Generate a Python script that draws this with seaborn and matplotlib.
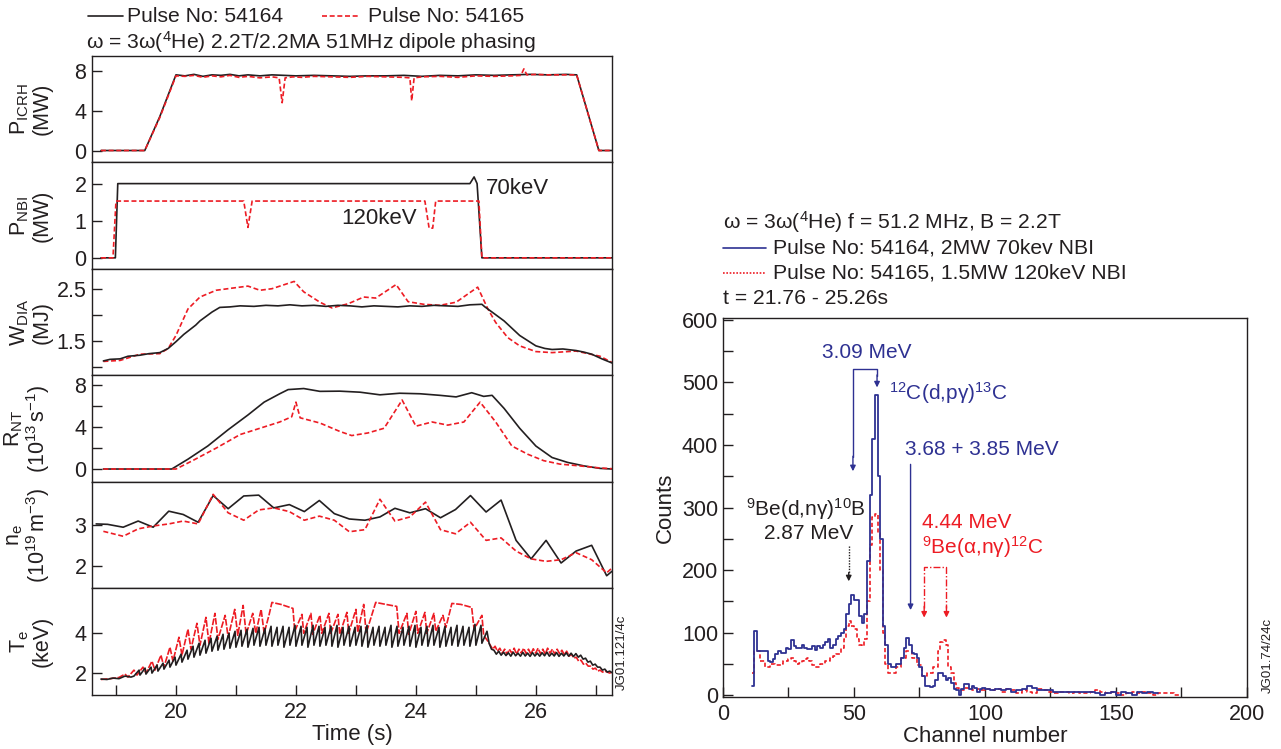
import numpy as np
import matplotlib
matplotlib.use('Agg')
import matplotlib.pyplot as plt
import seaborn as sns
from matplotlib.lines import Line2D

sns.set_style('ticks')
plt.rcParams['font.family'] = ['Liberation Sans', 'DejaVu Sans']
plt.rcParams['mathtext.fontset'] = 'custom'
plt.rcParams['mathtext.rm'] = 'Liberation Sans'
plt.rcParams['mathtext.it'] = 'Liberation Sans:italic'
plt.rcParams['mathtext.bf'] = 'Liberation Sans:bold'

BLACK = '#231f20'
RED = '#ed1c24'
BLUE = '#2e3192'

# ---------------- left panel data (time traces) ----------------
t_icrh_k = [18.75, 19.48, 19.73, 20.0, 20.15, 20.3, 20.45, 20.6, 20.75, 20.9, 21.05, 21.2, 21.4, 21.6, 21.8,
            22.0, 22.3, 22.6, 22.9, 23.2, 23.5, 23.8, 24.1, 24.4, 24.7, 25.0, 25.3, 25.6, 25.9, 26.2, 26.5,
            26.68, 27.05, 27.27]
p_icrh_k = [0, 0, 3.4, 7.6, 7.5, 7.65, 7.45, 7.6, 7.55, 7.65, 7.5, 7.6, 7.5, 7.6, 7.55,
            7.5, 7.55, 7.5, 7.45, 7.5, 7.5, 7.55, 7.45, 7.55, 7.5, 7.6, 7.55, 7.6, 7.65, 7.6, 7.65,
            7.6, 0, 0]
t_icrh_r = [18.75, 19.48, 19.73, 20.0, 20.15, 20.3, 20.45, 20.6, 20.75, 20.9, 21.05, 21.2, 21.4, 21.6, 21.72,
            21.77, 21.82, 21.95, 22.1, 22.3, 22.6, 22.9, 23.2, 23.5, 23.8, 23.9, 23.93, 23.97, 24.1, 24.4,
            24.7, 25.0, 25.3, 25.6, 25.75, 25.8, 25.85, 26.0, 26.2, 26.5, 26.68, 27.05, 27.27]
p_icrh_r = [0, 0, 3.3, 7.5, 7.45, 7.55, 7.35, 7.5, 7.4, 7.55, 7.35, 7.45, 7.3, 7.4, 7.3,
            4.8, 7.3, 7.4, 7.35, 7.45, 7.4, 7.35, 7.45, 7.4, 7.35, 7.3, 5.0, 7.3, 7.4, 7.45,
            7.35, 7.5, 7.45, 7.5, 7.55, 8.2, 7.6, 7.65, 7.6, 7.6, 7.6, 0, 0]

t_nbi_k = [18.75, 18.99, 19.03, 24.9, 24.97, 25.02, 25.1, 27.27]
p_nbi_k = [0, 0, 2.0, 2.0, 2.18, 2.0, 0, 0]
t_nbi_r = [18.75, 18.95, 19.0, 21.13, 21.2, 21.27, 24.15, 24.22, 24.28, 24.33, 25.05, 25.1, 27.27]
p_nbi_r = [0, 0, 1.53, 1.53, 0.82, 1.53, 1.53, 0.8, 0.8, 1.53, 1.53, 0, 0]

t_w_k = [18.79, 18.9, 19.07, 19.2, 19.4, 19.55, 19.73, 19.87, 20.0, 20.13, 20.33, 20.4, 20.6, 20.73, 20.9,
         21.07, 21.3, 21.5, 21.7, 21.9, 22.1, 22.3, 22.5, 22.7, 22.9, 23.1, 23.3, 23.5, 23.7, 23.9, 24.1,
         24.3, 24.5, 24.7, 24.9, 25.1, 25.15, 25.27, 25.47, 25.73, 26.0, 26.15, 26.27, 26.45, 26.67, 26.8,
         26.93, 27.1, 27.27]
w_k = [1.11, 1.14, 1.15, 1.2, 1.22, 1.25, 1.27, 1.35, 1.48, 1.62, 1.8, 1.88, 2.05, 2.14, 2.15,
       2.17, 2.16, 2.18, 2.17, 2.19, 2.17, 2.18, 2.16, 2.18, 2.17, 2.15, 2.17, 2.16, 2.15, 2.17, 2.16,
       2.18, 2.17, 2.16, 2.19, 2.2, 2.15, 2.05, 1.88, 1.6, 1.4, 1.35, 1.33, 1.34, 1.31, 1.28,
       1.24, 1.15, 1.07]
t_w_r = [18.79, 19.07, 19.4, 19.73, 19.87, 20.0, 20.2, 20.4, 20.67, 20.93, 21.2, 21.4, 21.6, 21.97, 22.13,
         22.4, 22.6, 22.87, 23.13, 23.33, 23.67, 23.87, 24.13, 24.4, 24.67, 25.03, 25.2, 25.33, 25.53,
         25.73, 26.0, 26.27, 26.67, 27.07, 27.27]
w_r = [1.1, 1.12, 1.24, 1.25, 1.35, 1.6, 2.11, 2.34, 2.47, 2.51, 2.55, 2.47, 2.5, 2.64, 2.44,
       2.24, 2.13, 2.21, 2.34, 2.32, 2.58, 2.25, 2.2, 2.18, 2.24, 2.53, 2.11, 1.85, 1.56,
       1.4, 1.29, 1.27, 1.3, 1.2, 1.08]

t_rnt_k = [18.79, 19.93, 20.2, 20.53, 20.87, 21.2, 21.47, 21.73, 21.87, 22.13, 22.4, 22.73, 23.07, 23.4,
           23.73, 24.07, 24.4, 24.67, 24.93, 25.13, 25.27, 25.47, 25.73, 26.0, 26.27, 26.53, 26.8, 27.07, 27.27]
rnt_k = [0, 0, 0.94, 2.2, 3.76, 5.17, 6.4, 7.2, 7.6, 7.7, 7.43, 7.45, 7.35, 7.1,
         7.25, 7.2, 7.05, 6.9, 7.3, 6.95, 7.05, 5.8, 3.9, 2.2, 1.1, 0.63, 0.3, 0.06, 0]
t_rnt_r = [18.79, 20.0, 20.27, 20.67, 21.07, 21.4, 21.73, 21.93, 22.0, 22.07, 22.4, 22.73, 22.93, 23.2,
           23.47, 23.77, 24.0, 24.27, 24.53, 24.8, 25.07, 25.33, 25.6, 25.87, 26.13, 26.4, 26.73, 27.07, 27.27]
rnt_r = [0, 0, 0.78, 2.0, 3.3, 3.9, 4.5, 5.0, 6.4, 4.9, 4.4, 3.6, 3.2, 3.45,
         3.9, 6.6, 4.1, 4.5, 4.2, 4.5, 6.4, 4.5, 2.2, 1.4, 0.8, 0.47, 0.3, 0.1, 0.03]

t_ne = [18.67, 18.86, 19.12, 19.37, 19.62, 19.88, 20.12, 20.37, 20.62, 20.87, 21.13, 21.38, 21.63, 21.89,
        22.14, 22.39, 22.64, 22.89, 23.15, 23.4, 23.65, 23.9, 24.16, 24.41, 24.66, 24.91, 25.17, 25.42,
        25.67, 25.92, 26.17, 26.42, 26.67, 26.93, 27.18, 27.27]
ne_k = [3.03, 3.02, 2.95, 3.10, 2.95, 3.34, 3.26, 3.07, 3.72, 3.40, 3.71, 3.73, 3.42, 3.50,
        3.33, 3.60, 3.28, 3.15, 3.12, 3.20, 3.41, 3.30, 3.40, 3.18, 3.38, 3.72, 3.32, 3.61,
        2.63, 2.18, 2.63, 2.08, 2.37, 2.51, 1.77, 1.88]
t_ne_r = [18.79, 19.12, 19.37, 19.62, 19.88, 20.12, 20.37, 20.62, 20.87, 21.13, 21.38, 21.63, 21.89,
          22.14, 22.39, 22.64, 22.89, 23.15, 23.4, 23.65, 23.9, 24.16, 24.41, 24.66, 24.91, 25.17, 25.42,
          25.67, 25.92, 26.17, 26.42, 26.67, 26.93, 27.18, 27.27]
ne_r = [2.85, 2.73, 2.91, 2.98, 3.03, 3.10, 3.03, 3.75, 3.30, 3.12, 3.37, 3.42, 3.33,
        3.12, 3.22, 3.12, 2.84, 2.89, 3.63, 3.10, 3.20, 3.56, 2.89, 2.79, 3.07, 2.63, 2.69,
        2.37, 2.18, 2.12, 2.16, 2.33, 2.16, 1.84, 1.96]

# Te, pulse 54164: slow ramp, then sawtooth teeth (trough, peak), then noisy plateau
t_te_k_pre = [18.75, 18.85, 18.95, 19.05, 19.15, 19.25]
te_k_pre = [1.7, 1.68, 1.75, 1.72, 1.85, 1.8]
te_k_trough = [1.85, 1.9, 1.95, 2.0, 2.1, 2.2, 2.3,
               2.4, 2.55, 2.7, 2.8, 2.9, 3.0, 3.1, 3.15, 3.2, 3.25,
               3.3, 3.35, 3.3, 3.4, 3.35, 3.4, 3.35, 3.4, 3.3, 3.4,
               3.35, 3.4, 3.3, 3.4, 3.35, 3.4, 3.35, 3.3, 3.4, 3.35,
               3.4, 3.35, 3.3, 3.4, 3.35, 3.4, 3.3, 3.35, 3.4, 3.35,
               3.3, 3.4, 3.35, 3.4, 3.3, 3.35, 3.4, 3.35, 3.4, 3.35,
               3.4, 3.5]
te_k_peak = [2.15, 2.25, 2.3, 2.4, 2.5, 2.65, 2.8,
             2.95, 3.15, 3.35, 3.5, 3.65, 3.75, 3.85, 3.95, 4.0, 4.1,
             4.15, 4.2, 4.25, 4.3, 4.25, 4.35, 4.3, 4.35, 4.3, 4.4,
             4.35, 4.3, 4.4, 4.35, 4.3, 4.35, 4.4, 4.3, 4.35, 4.3,
             4.35, 4.4, 4.3, 4.35, 4.3, 4.4, 4.35, 4.3, 4.35, 4.4,
             4.3, 4.35, 4.4, 4.3, 4.35, 4.3, 4.4, 4.35, 4.3, 4.45,
             4.4, 4.1]
te_k_post = [3.5, 3.2, 3.15, 2.95, 3.1, 2.9, 3.05, 2.88, 3.02, 2.85, 3.05, 2.87, 3.0, 2.85, 3.04, 2.86,
             3.0, 2.84, 3.03, 2.86, 3.0, 2.85, 3.02, 2.87, 3.05, 2.85, 3.0, 2.86, 3.03, 2.84, 3.0, 2.86,
             3.02, 2.85, 3.0, 2.83, 2.98, 2.8, 2.9, 2.7, 2.75, 2.55, 2.6, 2.4, 2.45, 2.3, 2.3, 2.15,
             2.2, 2.05, 2.1, 2.02]
# Te, pulse 54165: (time, value) vertices of the large sawteeth
te_r_pairs = [(18.75, 1.68), (18.9, 1.72), (19.05, 1.78), (19.15, 1.95), (19.2, 1.8), (19.3, 2.15),
              (19.35, 1.9), (19.45, 2.3), (19.5, 2.0), (19.6, 2.6), (19.65, 2.15), (19.75, 2.9),
              (19.8, 2.3), (19.9, 3.3), (19.95, 2.6), (20.05, 3.8), (20.1, 2.9), (20.2, 4.2),
              (20.25, 3.2), (20.35, 4.5), (20.4, 3.4), (20.5, 4.8), (20.55, 3.5), (20.65, 5.0),
              (20.7, 3.7), (20.82, 4.9), (20.87, 3.8), (20.98, 5.2), (21.03, 3.9), (21.12, 5.4),
              (21.17, 3.95), (21.28, 5.0), (21.33, 4.0), (21.42, 5.2), (21.47, 4.0), (21.55, 4.9),
              (21.6, 5.55), (21.75, 5.45), (21.95, 5.25), (21.98, 4.1), (22.1, 4.95), (22.13, 4.0),
              (22.25, 5.0), (22.28, 3.95), (22.4, 4.9), (22.43, 4.0), (22.55, 5.0), (22.58, 4.0),
              (22.7, 4.95), (22.73, 3.95), (22.85, 5.05), (22.88, 4.0), (23.0, 5.2), (23.03, 4.05),
              (23.13, 5.45), (23.17, 4.0), (23.33, 5.55), (23.5, 5.45), (23.68, 5.35), (23.72, 4.0),
              (23.85, 5.0), (23.88, 3.95), (24.0, 5.1), (24.03, 4.0), (24.15, 5.05), (24.18, 4.0),
              (24.3, 5.0), (24.33, 4.1), (24.45, 4.9), (24.5, 4.3), (24.6, 5.5), (24.75, 5.45),
              (24.93, 5.3), (24.97, 4.2), (25.1, 4.9), (25.13, 3.9), (25.2, 3.6)]
te_r_post = [3.4, 3.2, 3.35, 3.1, 3.25, 3.0, 3.2, 2.95, 3.2, 3.0, 3.25, 2.95, 3.2, 3.0, 3.25, 2.98,
             3.2, 2.95, 3.22, 3.0, 3.25, 2.97, 3.2, 2.95, 3.25, 3.0, 3.2, 2.95, 3.2, 2.98, 3.15, 2.92,
             3.1, 2.85, 2.95, 2.75, 2.8, 2.6, 2.65, 2.45, 2.5, 2.35, 2.35, 2.2, 2.25, 2.1, 2.15, 2.05,
             2.1, 2.05, 2.0, 2.05]

# ---------------- right panel data (gamma spectrum) ----------------
hist_edges_fine = list(range(11, 101))        # 1-channel bins 11..100
blue_fine = [15, 102, 70, 70, 70, 70, 55, 53, 58, 65, 70, 68, 68, 75, 73, 88, 78, 75, 75, 80,
             75, 73, 73, 78, 72, 78, 75, 80, 85, 90, 75, 80, 90, 95, 100, 105, 130, 145, 160, 152,
             152, 127, 116, 130, 215, 320, 410, 480, 350, 250, 110, 80, 50, 45, 45, 50, 50, 60, 75, 92,
             80, 68, 65, 60, 45, 30, 15, 15, 13, 15, 25, 35, 35, 30, 25, 28, 20, 10, 8, 0,
             10, 18, 18, 10, 15, 12, 5, 10, 12]
red_fine = [35, 70, 70, 55, 55, 45, 45, 50, 50, 48, 48, 50, 55, 55, 58, 60, 55, 50, 52, 55,
            58, 60, 55, 48, 45, 45, 50, 50, 55, 55, 60, 62, 65, 65, 75, 90, 110, 118, 110, 105,
            90, 80, 78, 90, 150, 240, 285, 290, 260, 200, 100, 50, 35, 35, 35, 45, 45, 60, 60, 70,
            70, 60, 60, 48, 48, 30, 30, 35, 35, 45, 45, 70, 85, 88, 80, 45, 35, 20, 12, 8,
            8, 12, 12, 12, 8, 8, 10, 8, 8]
blue_tail = [10, 8, 10, 8, 10, 5, 8, 10, 15, 12, 8, 8, 8, 5, 5, 5, 5, 5, 5, 5,
             5, 3, 0, 3, 5, 0, 5, 3, 0, 5, 3, 5, 3]                      # 2-channel bins 100..166
red_tail = [10, 8, 10, 5, 10, 8, 3, 8, 5, 3, 10, 8, 5, 3, 5, 5, 3, 5, 3, 3,
            5, 8, 5, 3, 5, 3, 0, 3, 5, 3, 5, 3, 0, 3, 3, 3, 0]           # 2-channel bins 100..174

# ---------------- figure ----------------
fig = plt.figure(figsize=(12.81, 7.49), dpi=100)
L, W = 0.0718, 0.406
B0, H = 0.0721, 0.1422
axes = [fig.add_axes([L, B0 + (5 - i) * H, W, H]) for i in range(6)]

TFS = 15.5
LFS = 16
YFS = 15.5
TXT = 15.2


def kline(ax, x, y, lw=1.2):
    sns.lineplot(x=np.asarray(x, float), y=np.asarray(y, float), ax=ax, color=BLACK, lw=lw,
                 estimator=None, sort=False, legend=False)


def rline(ax, x, y, lw=1.2, ls=(0, (3, 1.6))):
    l = sns.lineplot(x=np.asarray(x, float), y=np.asarray(y, float), ax=ax, color=RED, lw=lw,
                     estimator=None, sort=False, legend=False)
    l.lines[-1].set_linestyle(ls)


kline(axes[0], t_icrh_k, p_icrh_k)
rline(axes[0], t_icrh_r, p_icrh_r)
kline(axes[1], t_nbi_k, p_nbi_k)
rline(axes[1], t_nbi_r, p_nbi_r)
rline(axes[2], t_w_r, w_r)
kline(axes[2], t_w_k, w_k)
kline(axes[3], t_rnt_k, rnt_k)
rline(axes[3], t_rnt_r, rnt_r)
kline(axes[4], t_ne, ne_k)
rline(axes[4], t_ne_r, ne_r)

# assemble Te traces
tk, vk = list(t_te_k_pre), list(te_k_pre)
tooth_start = 19.3 + 0.1 * np.arange(len(te_k_trough))
for ts, lo, hi in zip(tooth_start, te_k_trough, te_k_peak):
    tk += [ts, ts + 0.085]
    vk += [lo, hi]
tk += list(np.linspace(25.22, 27.27, len(te_k_post)))
vk += te_k_post
tr = [p[0] for p in te_r_pairs] + list(np.linspace(25.24, 27.27, len(te_r_post)))
vr = [p[1] for p in te_r_pairs] + te_r_post
rline(axes[5], tr, vr, lw=1.2, ls=(0, (4, 1)))
kline(axes[5], tk, vk, lw=1.2)

ylims = [(-1.2, 9.5), (-0.3, 2.57), (0.83, 2.88), (-1.24, 8.95), (1.46, 4.05), (0.9, 6.25)]
yticks = [[0, 4, 8], [0, 1, 2], [1, 1.5, 2, 2.5], [0, 2, 4, 6, 8], [2, 3], [2, 4]]
ylabs = [['0', '4', '8'], ['0', '1', '2'], ['', '1.5', '', '2.5'], ['0', '', '4', '', '8'], ['2', '3'], ['2', '4']]
ylabels = [r'$\mathrm{P_{ICRH}}$' + '\n(MW)',
           r'$\mathrm{P_{NBI}}$' + '\n(MW)',
           r'$\mathrm{W_{DIA}}$' + '\n(MJ)',
           r'$\mathrm{R_{NT}}$' + '\n' + r'$\mathrm{(10^{13}\,s^{-1})}$',
           r'$\mathrm{n_e}$' + '\n' + r'$\mathrm{(10^{19}\,m^{-3})}$',
           r'$\mathrm{T_e}$' + '\n(keV)']
for i, ax in enumerate(axes):
    ax.set_xlim(18.6, 27.27)
    ax.set_ylim(*ylims[i])
    ax.set_yticks(yticks[i])
    ax.set_yticklabels(ylabs[i])
    ax.set_xlabel('')
    ax.set_ylabel(ylabels[i], fontsize=YFS, color=BLACK, linespacing=1.0)
    ax.yaxis.set_label_coords(-0.076, 0.5)
    for s in ax.spines.values():
        s.set_visible(True)
        s.set_color(BLACK)
        s.set_linewidth(1.0)
    ax.tick_params(axis='y', direction='in', length=7, width=1, labelsize=TFS, colors=BLACK, pad=4)
    if i < 5:
        ax.set_xticks([])
    else:
        ax.set_xticks(list(range(19, 28)))
        ax.set_xticklabels(['' if v % 2 else str(v) for v in range(19, 28)])
        ax.tick_params(axis='x', direction='in', length=7, width=1, labelsize=TFS, colors=BLACK, pad=5)
        ax.set_xlabel('Time (s)', fontsize=LFS, color=BLACK, labelpad=1)

axes[1].text(25.17, 1.88, '70keV', fontsize=LFS, color=BLACK, va='center', ha='left')
axes[1].text(22.75, 1.05, '120keV', fontsize=LFS, color=BLACK, va='center', ha='left')

# top-left legend
yl = 1 - 16 / 749
fig.add_artist(Line2D([88 / 1281, 123 / 1281], [yl, yl], color=BLACK, lw=1.2))
fig.text(127 / 1281, yl, 'Pulse No: 54164', fontsize=TXT, color=BLACK, va='center', ha='left')
fig.add_artist(Line2D([322 / 1281, 360 / 1281], [yl, yl], color=RED, lw=1.2, ls=(0, (3, 1.6))))
fig.text(368 / 1281, yl, 'Pulse No: 54165', fontsize=TXT, color=BLACK, va='center', ha='left')
fig.text(86 / 1281, 1 - 42 / 749, r'ω = 3ω($^4$He) 2.2T/2.2MA 51MHz dipole phasing', fontsize=TXT,
         color=BLACK, va='center', ha='left')
fig.text(622 / 1281, 1 - 652 / 749, 'JG01.121/4c', fontsize=9.5, color=BLACK, rotation=90,
         va='center', ha='center')

# ---------------- right panel ----------------
axr = fig.add_axes([0.5644, 0.0694, 0.409, 0.506])
edges_b = hist_edges_fine + [100 + 2 * (k + 1) for k in range(len(blue_tail))]
edges_r = hist_edges_fine + [100 + 2 * (k + 1) for k in range(len(red_tail))]
vals_b = blue_fine + blue_tail
vals_r = red_fine + red_tail
cent_b = [(a + b) / 2 for a, b in zip(edges_b[:-1], edges_b[1:])]
cent_r = [(a + b) / 2 for a, b in zip(edges_r[:-1], edges_r[1:])]
sns.histplot(x=cent_r, weights=vals_r, bins=edges_r, element='step', fill=False, color=RED,
             lw=1.2, linestyle=(0, (2.5, 1.5)), ax=axr)
sns.histplot(x=cent_b, weights=vals_b, bins=edges_b, element='step', fill=False, color=BLUE,
             lw=1.3, ax=axr)
axr.set_xlim(0, 200)
axr.set_ylim(-3, 603)
axr.set_xticks(range(0, 201, 25))
axr.set_xticklabels(['0', '', '50', '', '100', '', '150', '', '200'])
axr.set_yticks(range(0, 601, 50))
axr.set_yticklabels([str(v) if v % 100 == 0 else '' for v in range(0, 601, 50)])
axr.tick_params(direction='in', length=7, width=1, labelsize=TFS, colors=BLACK)
axr.tick_params(axis='x', pad=5)
for s in axr.spines.values():
    s.set_visible(True)
    s.set_color(BLACK)
    s.set_linewidth(1.0)
axr.set_xlabel('Channel number', fontsize=LFS, color=BLACK, labelpad=1)
axr.set_ylabel('Counts', fontsize=LFS, color=BLACK)
axr.yaxis.set_label_coords(-0.09, 0.5)

AFS = 15
arr = dict(arrowstyle='-|>', lw=1.0, mutation_scale=8, shrinkA=0, shrinkB=0)
# 3.09 MeV bracket
axr.plot([49.6, 49.6, 58.8, 58.8], [380, 521, 521, 510], color=BLUE, lw=1.0)
axr.annotate('', xy=(49.6, 358), xytext=(49.6, 382), arrowprops=dict(color=BLUE, **arr))
axr.annotate('', xy=(58.8, 492), xytext=(58.8, 512), arrowprops=dict(color=BLUE, **arr))
axr.text(55, 548, '3.09 MeV', fontsize=AFS, color=BLUE, ha='center', va='center')
axr.text(63.4, 483, r'$^{12}$C(d,pγ)$^{13}$C', fontsize=AFS, color=BLUE, ha='left', va='center')
# 3.68 + 3.85 MeV
axr.text(69.5, 392, '3.68 + 3.85 MeV', fontsize=AFS, color=BLUE, ha='left', va='center')
axr.annotate('', xy=(71.6, 136), xytext=(71.6, 369), arrowprops=dict(color=BLUE, **arr))
# 9Be(d,n gamma)
axr.text(31.5, 298, r'$^9$Be(d,nγ)$^{10}$B', fontsize=AFS, color=BLACK, ha='center', va='center')
axr.text(32.8, 259, '2.87 MeV', fontsize=AFS, color=BLACK, ha='center', va='center')
axr.plot([48, 48], [238, 195], color=BLACK, lw=1.0, ls=(0, (1, 1)))
axr.annotate('', xy=(48, 182), xytext=(48, 196), arrowprops=dict(color=BLACK, **arr))
# 4.44 MeV
axr.text(76, 276, '4.44 MeV', fontsize=AFS, color=RED, ha='left', va='center')
axr.text(76, 237, r'$^9$Be(α,nγ)$^{12}$C', fontsize=AFS, color=RED, ha='left', va='center')
axr.plot([76.8, 76.8, 85.3, 85.3], [140, 205, 205, 140], color=RED, lw=1.0, ls=(0, (5, 1.5, 1, 1.5)))
axr.annotate('', xy=(76.8, 124), xytext=(76.8, 142), arrowprops=dict(color=RED, **arr))
axr.annotate('', xy=(85.3, 124), xytext=(85.3, 142), arrowprops=dict(color=RED, **arr))

# right legend/title block
fig.text(723 / 1281, 1 - 222 / 749, r'ω = 3ω($^4$He) f = 51.2 MHz, B = 2.2T', fontsize=TXT,
         color=BLACK, va='center', ha='left')
y1 = 1 - 248 / 749
fig.add_artist(Line2D([723 / 1281, 766 / 1281], [y1, y1], color=BLUE, lw=1.2))
fig.text(773 / 1281, y1, 'Pulse No: 54164, 2MW 70kev NBI', fontsize=TXT, color=BLACK,
         va='center', ha='left')
y2 = 1 - 273 / 749
fig.add_artist(Line2D([723 / 1281, 766 / 1281], [y2, y2], color=RED, lw=1.2, ls=(0, (1, 1))))
fig.text(773 / 1281, y2, 'Pulse No: 54165, 1.5MW 120keV NBI', fontsize=TXT, color=BLACK,
         va='center', ha='left')
fig.text(723 / 1281, 1 - 299 / 749, 't = 21.76 - 25.26s', fontsize=TXT, color=BLACK,
         va='center', ha='left')
fig.text(1268 / 1281, 1 - 655 / 749, 'JG01.74/24c', fontsize=9.5, color=BLACK, rotation=90,
         va='center', ha='center')

fig.savefig('out.png', dpi=100)
